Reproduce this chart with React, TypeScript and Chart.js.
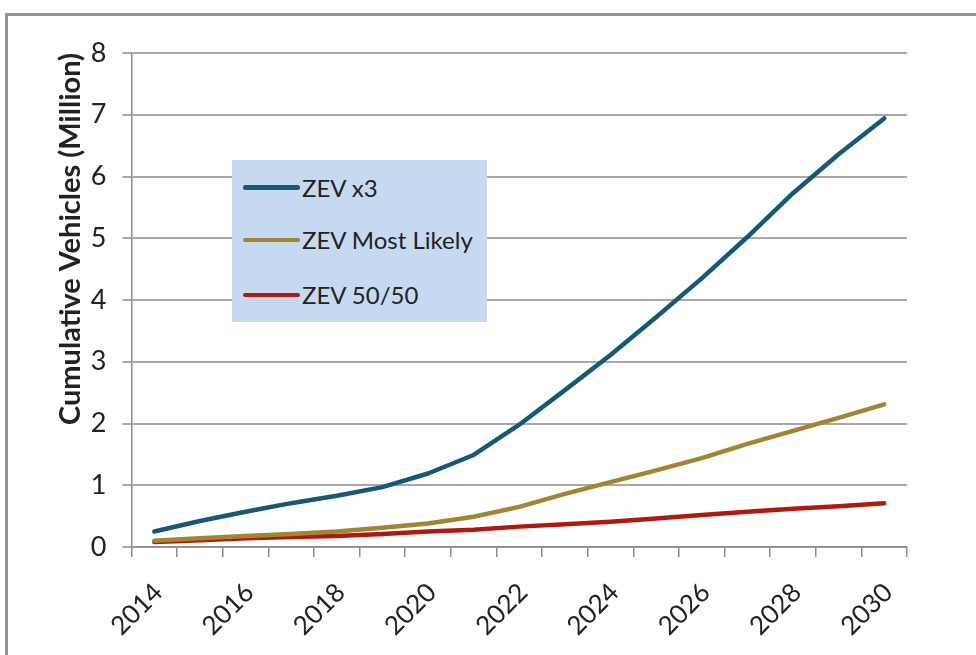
import React, { useEffect, useRef } from "react";
import { Chart, registerables } from "chart.js";

Chart.register(...registerables);

const years = ["2014", "2015", "2016", "2017", "2018", "2019", "2020", "2021", "2022", "2023", "2024", "2025", "2026", "2027", "2028", "2029", "2030"];
const zevX3 = [0.25, 0.42, 0.57, 0.71, 0.83, 0.97, 1.19, 1.49, 1.98, 2.54, 3.11, 3.72, 4.35, 5.02, 5.73, 6.36, 6.94];
const zevMostLikely = [0.1, 0.14, 0.18, 0.21, 0.25, 0.31, 0.38, 0.49, 0.65, 0.86, 1.05, 1.24, 1.44, 1.67, 1.88, 2.09, 2.31];
const zev5050 = [0.08, 0.11, 0.14, 0.16, 0.18, 0.21, 0.25, 0.28, 0.33, 0.37, 0.41, 0.46, 0.52, 0.57, 0.62, 0.66, 0.71];
const seriesNames = ["ZEV x3", "ZEV Most Likely", "ZEV 50/50"];
const seriesColors = ["#185873", "#A08632", "#B0190F"];
const yTitle = "Cumulative Vehicles (Million)";

const FONT = "Lato, 'Open Sans', sans-serif";

export default function App() {
  const ref = useRef<HTMLCanvasElement | null>(null);

  useEffect(() => {
    if (!ref.current) return;
    const seriesData = [zevX3, zevMostLikely, zev5050];
    const chart = new Chart(ref.current, {
      type: "line",
      data: {
        labels: years,
        datasets: seriesNames.map((name, i) => ({
          label: name,
          data: seriesData[i],
          borderColor: seriesColors[i],
          backgroundColor: seriesColors[i],
          borderWidth: 4.5,
          pointRadius: 0,
          tension: 0,
          borderCapStyle: "round" as const,
          borderJoinStyle: "round" as const,
        })),
      },
      options: {
        responsive: false,
        animation: false,
        devicePixelRatio: 1,
        layout: { padding: { top: 53, right: 69, bottom: 0, left: 0 } },
        plugins: { legend: { display: false }, tooltip: { enabled: false } },
        scales: {
          x: {
            type: "category",
            offset: true,
            afterFit: (scale: any) => {
              scale.height = 108;
            },
            grid: {
              display: true,
              drawOnChartArea: false,
              drawTicks: true,
              tickLength: 10,
              offset: true,
              color: "#8c8c8c",
              lineWidth: 1.5,
            },
            border: { display: true, color: "#8c8c8c", width: 1.5 },
            ticks: {
              autoSkip: false,
              minRotation: 45,
              maxRotation: 45,
              padding: 20,
              labelOffset: 4,
              color: "#222",
              font: { family: FONT, size: 26, lineHeight: 1.2 },
              callback: (_v: any, idx: number) => (idx % 2 === 0 ? years[idx] : ""),
            },
          },
          y: {
            min: 0,
            max: 8,
            afterFit: (scale: any) => {
              scale.width = 131.5;
            },
            grid: {
              color: "#a8a8a8",
              lineWidth: 2,
              drawTicks: true,
              tickLength: 9,
            },
            border: { display: true, color: "#8c8c8c", width: 1.5 },
            ticks: {
              stepSize: 1,
              padding: 16,
              color: "#222",
              font: { family: FONT, size: 27 },
            },
            title: {
              display: true,
              text: yTitle,
              align: "end",
              color: "#222",
              padding: { top: 53, bottom: 0 },
              font: { family: FONT, size: 29, weight: "bold" },
            },
          },
        },
      },
    });
    return () => chart.destroy();
  }, []);

  const rowYs = [187.3, 240, 295];
  const boxLeft = 232;
  const boxTop = 160;

  return (
    <div style={{ position: "fixed", left: 0, top: 0, width: 976, height: 655, overflow: "hidden", background: "#fff", fontFamily: FONT }}>
      <div
        style={{
          position: "absolute",
          left: 5,
          top: 13,
          width: 1100,
          height: 800,
          borderTop: "3px solid #949494",
          borderLeft: "3px solid #949494",
          boxSizing: "border-box",
        }}
      />
      <canvas ref={ref} width={976} height={655} style={{ position: "absolute", left: 0, top: 0 }} />
      <div
        style={{
          position: "absolute",
          left: boxLeft,
          top: boxTop,
          width: 255,
          height: 162,
          background: "#C6D9F1",
        }}
      >
        {seriesNames.map((name, i) => (
          <React.Fragment key={name}>
            <div
              style={{
                position: "absolute",
                left: 11,
                top: rowYs[i] - boxTop - 2.25,
                width: 57,
                height: 4.5,
                borderRadius: 2.5,
                background: seriesColors[i],
              }}
            />
            <div
              style={{
                position: "absolute",
                left: 70,
                top: rowYs[i] + 1 - 12.7 - boxTop,
                fontSize: 24,
                lineHeight: "24px",
                color: "#222",
                whiteSpace: "nowrap",
              }}
            >
              {name}
            </div>
          </React.Fragment>
        ))}
      </div>
    </div>
  );
}
